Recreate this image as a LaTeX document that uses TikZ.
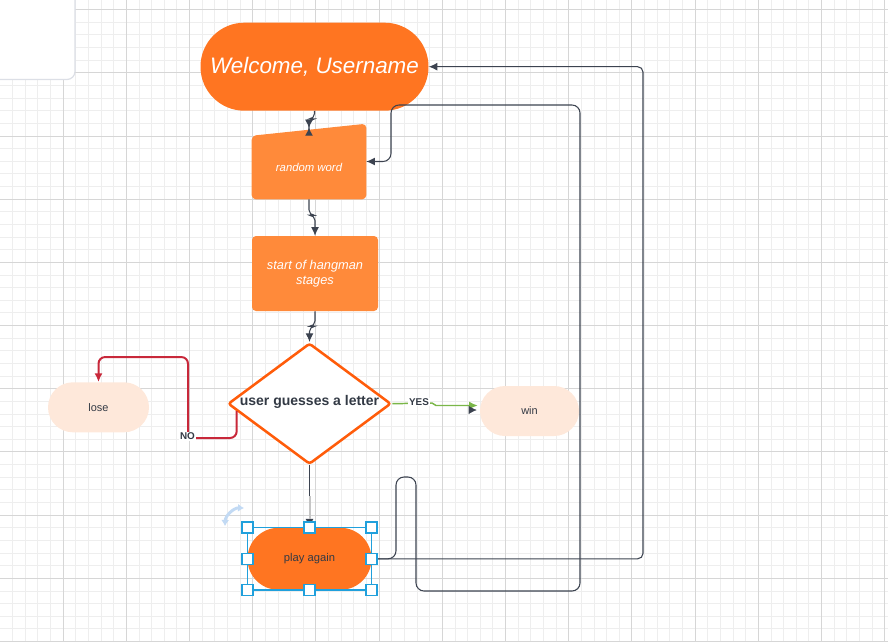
\documentclass[tikz,border=0pt]{standalone}
\usepackage{fontspec}
\setmainfont{Liberation Sans}
\usetikzlibrary{arrows.meta,shapes.geometric,calc}
\definecolor{gridminor}{HTML}{EEEEEE}
\definecolor{gridmajor}{HTML}{D6D6D6}
\definecolor{boxedge}{HTML}{DCDFE6}
\definecolor{orangeA}{HTML}{FF7521}
\definecolor{orangeB}{HTML}{FF8A3A}
\definecolor{diaorange}{HTML}{FF5C0A}
\definecolor{peach}{HTML}{FEE8DA}
\definecolor{linedark}{HTML}{3C4350}
\definecolor{textdark}{HTML}{333A45}
\definecolor{nored}{HTML}{C8283A}
\definecolor{yesgreen}{HTML}{7AB648}
\definecolor{selblue}{HTML}{20A0DC}
\definecolor{rotblue}{HTML}{C2DAF4}
\begin{document}
\begin{tikzpicture}[x=0.75pt,y=-0.75pt,
    minor/.style={gridminor, line width=0.75pt},
    major/.style={gridmajor, line width=0.75pt},
    pill/.style={rounded corners=#1, inner sep=0pt},
    wtext/.style={text=white, font=\itshape\fontsize{#1}{#1}\selectfont},
    dtext/.style={text=textdark, font=\fontsize{#1}{#1}\selectfont},
    conn/.style={draw=linedark, line width=0.8pt, rounded corners=4pt, -{Latex[length=6.5pt,width=6pt]}},
    handle/.style={draw=selblue, fill=white, line width=1.2pt, minimum size=8.25pt, inner sep=0pt},
    tag/.style={text=textdark, font=\bfseries\fontsize{7.4}{8}\selectfont, fill=white, inner sep=0.6pt}]
\useasboundingbox (0,0) rectangle (888,642);
\clip (0,0) rectangle (888,642);
% grid
\foreach \k in {-5,...,65} \draw[minor] ({round(62.7+12.64*\k)+0.5},0) -- ++(0,642);
\foreach \k in {-6,...,45} \draw[minor] (0,{round(72.3+12.64*\k)+0.5}) -- ++(888,0);
\foreach \k in {-1,...,13} \draw[major] ({round(62.7+63.2*\k)+0.5},0) -- ++(0,642);
\foreach \k in {-2,...,9} \draw[major] (0,{round(72.3+63.2*\k)+0.5}) -- ++(888,0);
\filldraw[fill=white, draw=boxedge, line width=0.9pt, rounded corners=6pt] (-10,-10) rectangle (75,79.5);

% shapes
\node[pill=32.9pt, fill=orangeA, minimum width=171pt, minimum height=66pt, wtext=16.8] (welcome) at (314.5,66.7) {Welcome, Username};
\node[minimum width=85.5pt, minimum height=47.25pt, inner sep=0pt] (rw) at (309,167.5) {};
\fill[orangeB, rounded corners=3pt] (rw.south west) -- (rw.north west) -- ($(rw.north east)+(0,-12)$) -- (rw.south east) -- cycle;
\node[wtext=8.5] (rwlabel) at (rw) {random word};
\node[fill=orangeB, rounded corners=3pt, minimum width=94.5pt, minimum height=56.25pt, align=center, text=white, font=\itshape\fontsize{9.6}{11.25}\selectfont] (start) at (315,273.5) {start of hangman\\stages};
\node[diamond, draw=diaorange, line width=1.9pt, fill=white, minimum width=122.25pt, minimum height=90.75pt, inner sep=0pt, rounded corners=2pt] (guess) at (309.5,403.7) {};
\node[text=textdark, font=\bfseries\fontsize{10.5}{12}\selectfont] (guesslabel) at (309.5,401.7) {user guesses a letter};
\node[pill=18.7pt, fill=peach, minimum width=75.75pt, minimum height=37.5pt, dtext=8.2] (lose) at (98.5,407.3) {lose};
\node[pill=18.7pt, fill=peach, minimum width=74.25pt, minimum height=37.5pt, dtext=8.2] (win) at (529.5,411) {win};
\node[pill=23.2pt, fill=orangeA, minimum width=93pt, minimum height=46.5pt, dtext=8.4] (play) at (309.5,558.8) {play again};

% connectors
\draw[conn, -{Latex[length=6pt,width=6pt] Latex[reversed,length=6pt,width=6pt]}] (welcome.south) -- ++(0,8) -| (rw.north);
\draw[conn] (rw.south) -- ++(0,16) -| (start.north);
\draw[conn] (start.south) -- ++(0,15) -| (guess.north);
\draw[conn] (guess.south) -- (play.north);
\draw[gray!45, line width=1.5pt] ($(guess.south)+(0,31)$) -- ($(play.north)+(0,-9)$);
\draw[nored, line width=1.5pt, rounded corners=5pt, -{Latex[length=6.5pt,width=6pt]}] ($(guess.west)!0.12!(guess.south)$) |- (188,438) |- ($(lose.north)+(0,-25)$) -- (lose.north);
\node[tag] (nolabel) at (187.5,436.5) {NO};
\draw[yesgreen, line width=1.1pt, -{Latex[length=6.5pt,width=6pt]}] (guess.east) -- (432,403) -- (436,405.5) -- ($(win.west)+(-2,-5.5)$);
\node[tag] (yeslabel) at (419,402) {YES};
\draw[linedark, -{Latex[length=6pt,width=6pt]}] ($(win.west)+(-10,-1)$) -- ($(win.west)+(-3,-1)$);
\draw[conn] (play.east) -- (643,558.8) |- (welcome.east);
\draw[conn, rounded corners=6pt] (play.east) -- (396,558.8) -- (396,477) -- (416,477) -- (416,591) -- (580,591) -- (580,105) -- (391,105) |- ($(rw.east)+(0,-6)$);

% selection
\draw[selblue, line width=0.9pt] (play.north west) rectangle (play.south east);
\foreach \a [count=\i] in {north west,north,north east,west,east,south west,south,south east}
  \node[handle] (h\i) at (play.\a) {};
\draw[rotblue, line width=2.2pt, {Latex[length=4.5pt,width=6pt]}-{Latex[length=4.5pt,width=6pt]}] (225,526) to[bend left=45] (244,508);
\end{tikzpicture}
\end{document}
